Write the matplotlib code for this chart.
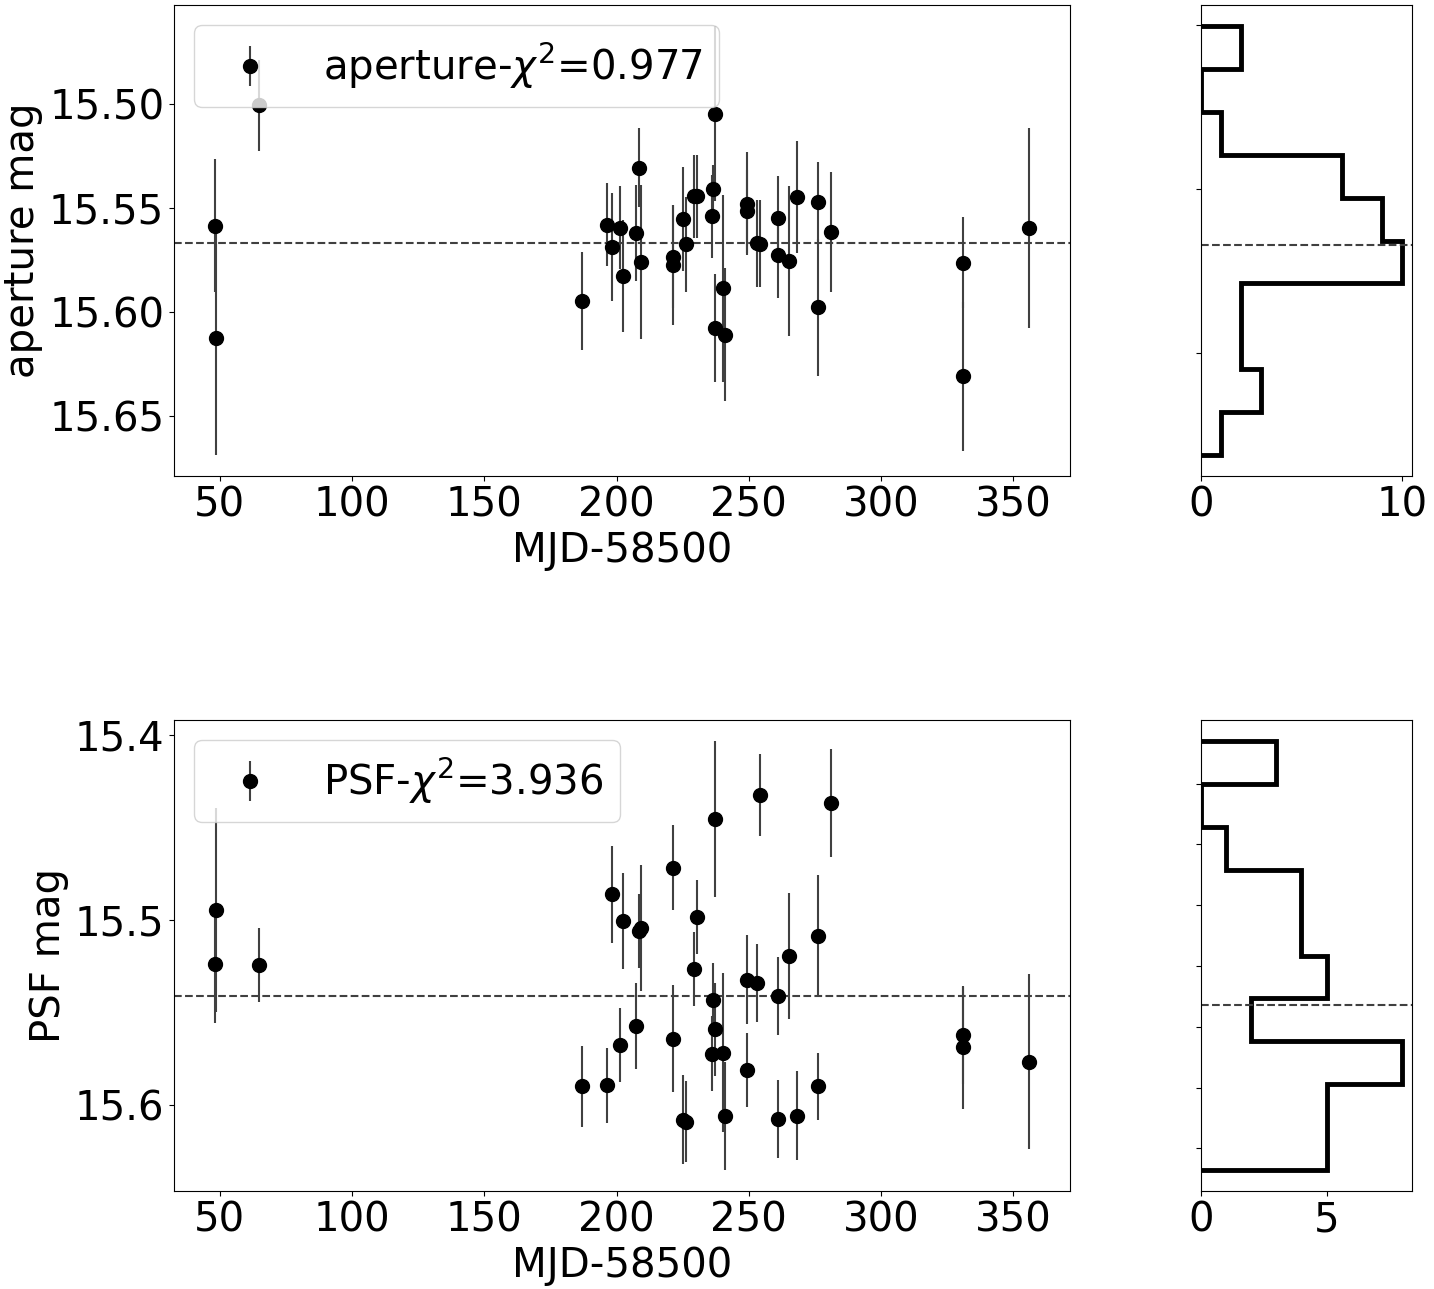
import matplotlib
matplotlib.use("Agg")
import matplotlib.pyplot as plt
import numpy as np

# epochs (MJD-58500), shared by both photometry sets
mjd = [48.1, 48.7, 64.8, 187.1, 196.3, 198.2, 201.2, 202.4, 207.3, 208.4,
       209.2, 221.4, 221.4, 225.1, 226.2, 229.2, 230.4, 236.0, 236.4, 237.1,
       237.1, 240.2, 241.2, 249.3, 249.3, 253.0, 254.2, 261.0, 261.0, 265.2,
       268.2, 276.1, 276.1, 281.1, 331.0, 331.0, 356.0]

ap_mag = [15.5585, 15.6127, 15.5005, 15.5947, 15.558, 15.5686, 15.5594, 15.5828, 15.562, 15.5306,
          15.576, 15.5733, 15.5773, 15.5551, 15.5675, 15.5443, 15.5443, 15.554, 15.541, 15.5045,
          15.6077, 15.5886, 15.611, 15.5478, 15.5514, 15.567, 15.5672, 15.5546, 15.5725, 15.5755,
          15.5446, 15.547, 15.5977, 15.5615, 15.5763, 15.631, 15.5596]
ap_err = [0.032, 0.056, 0.022, 0.0235, 0.020, 0.026, 0.020, 0.027, 0.023, 0.019,
          0.037, 0.025, 0.029, 0.025, 0.023, 0.020, 0.020, 0.020, 0.012, 0.042,
          0.026, 0.045, 0.032, 0.025, 0.020, 0.021, 0.021, 0.020, 0.021, 0.036,
          0.027, 0.019, 0.033, 0.029, 0.022, 0.036, 0.048]

psf_mag = [15.5237, 15.4945, 15.5243, 15.5897, 15.5892, 15.4862, 15.5675, 15.5005, 15.5572, 15.5057,
           15.5045, 15.4717, 15.5639, 15.6076, 15.6087, 15.5265, 15.4983, 15.572, 15.5431, 15.4457,
           15.559, 15.5715, 15.6056, 15.5322, 15.581, 15.534, 15.4327, 15.5409, 15.6072, 15.5196,
           15.6056, 15.5086, 15.5897, 15.437, 15.5622, 15.5687, 15.5763]
psf_err = [0.032, 0.055, 0.020, 0.022, 0.020, 0.026, 0.020, 0.026, 0.023, 0.020,
           0.034, 0.023, 0.029, 0.024, 0.022, 0.020, 0.020, 0.020, 0.020, 0.042,
           0.025, 0.043, 0.029, 0.024, 0.020, 0.021, 0.022, 0.021, 0.021, 0.034,
           0.024, 0.033, 0.018, 0.029, 0.026, 0.033, 0.047]

ap_ref = 15.567
psf_ref = 15.541
ap_label = r'aperture-$\chi^2$=0.977'
psf_label = r'PSF-$\chi^2$=3.936'

fs = 29
fig = plt.figure(figsize=(14.34, 12.89), dpi=100)

rows = [
    (0.6307, ap_mag, ap_err, ap_ref, ap_label, 'aperture mag',
     [15.50, 15.55, 15.60, 15.65], [15.50, 15.55, 15.60], [0, 10]),
    (0.0760, psf_mag, psf_err, psf_ref, psf_label, 'PSF mag',
     [15.4, 15.5, 15.6], [15.45, 15.475, 15.50, 15.525, 15.55, 15.575, 15.60], [0, 5]),
]

for bottom, mag, err, ref, label, ylab, yt, hyt, hxt in rows:
    ax = fig.add_axes([0.1213, bottom, 0.6248, 0.3654])
    ax.errorbar(mjd, mag, yerr=err, fmt='o', color='k', ms=10,
                ecolor='0.25', elinewidth=1.5, label=label)
    ax.axhline(ref, color='0.25', ls='--', lw=1.5)
    ax.set_yticks(yt)
    ax.invert_yaxis()
    ax.set_xlabel('MJD-58500', fontsize=fs)
    ax.set_ylabel(ylab, fontsize=fs)
    ax.tick_params(labelsize=fs)
    ax.legend(loc='upper left', fontsize=fs)

    axh = fig.add_axes([0.8375, bottom, 0.1471, 0.3654])
    axh.hist(mag, bins=10, orientation='horizontal', histtype='step',
             color='k', lw=3.5)
    axh.axhline(ref, color='0.25', ls='--', lw=1.5)
    axh.set_yticks(hyt)
    axh.set_xticks(hxt)
    axh.invert_yaxis()
    axh.tick_params(labelleft=False, labelsize=fs)

plt.savefig('out.png', dpi=100)
